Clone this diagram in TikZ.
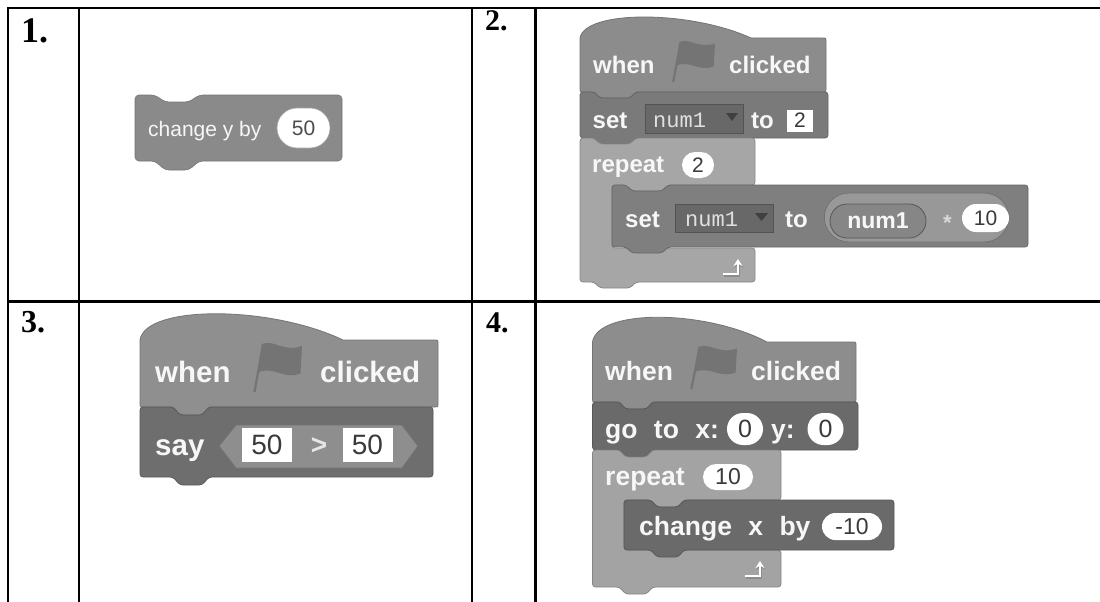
\documentclass[tikz,border=0pt]{standalone}
\usepackage{fontspec}
\setmainfont{Liberation Serif}
\newfontfamily\scrfont{Liberation Sans}
\newfontfamily\scrplain{Liberation Sans}
\newfontfamily\scrmono{Liberation Mono}
\usetikzlibrary{arrows.meta,shapes.misc}

\definecolor{plainA}{HTML}{8A8A8A}
\definecolor{hatB}{HTML}{8C8C8C}
\definecolor{setB}{HTML}{7A7A7A}
\definecolor{ctrlB}{HTML}{A6A6A6}
\definecolor{setBin}{HTML}{7F7F7F}
\definecolor{dropB}{HTML}{686868}
\definecolor{opB}{HTML}{989898}
\definecolor{varB}{HTML}{868686}
\definecolor{hatC}{HTML}{8F8F8F}
\definecolor{sayC}{HTML}{6E6E6E}
\definecolor{hexC}{HTML}{8E8E8E}
\definecolor{hatD}{HTML}{8D8D8D}
\definecolor{motD}{HTML}{6A6A6A}
\definecolor{ctrlD}{HTML}{A3A3A3}
\definecolor{flagG}{HTML}{747474}
\definecolor{txtwhite}{HTML}{F7F7F7}
\definecolor{inkgray}{HTML}{3A3A3A}

% notch geometry: offsets from a block's left edge and notch depth
\def\nA{14}\def\nB{20}\def\nC{50}\def\nD{56}\def\nH{6}

% stack block: x1, y1, x2, y2, fill
\newcommand{\scrStack}[5]{%
  \path[fill=#5, draw=#5!82!black, line width=0.8pt, rounded corners=3pt]
    (#1,#2) -- (#1+\nA,#2) -- (#1+\nB,#2+\nH) -- (#1+\nC,#2+\nH) -- (#1+\nD,#2) -- (#3,#2)
    -- (#3,#4) -- (#1+\nD,#4) -- (#1+\nC,#4+\nH) -- (#1+\nB,#4+\nH) -- (#1+\nA,#4) -- (#1,#4) -- cycle;}

% hat block: x1, control y of the hump, x2, y2, y of flat top, x where hump ends, fill
\newcommand{\scrHat}[7]{%
  \path[fill=#7, draw=#7!82!black, line width=0.8pt]
    (#1,#4-3) -- (#1,#5) .. controls (#1+5,#2) and ({#6-0.36*(#6-#1)},#2) .. (#6,#5)
    -- (#3-4,#5) .. controls (#3,#5) .. (#3,#5+4) -- (#3,#4-3) .. controls (#3,#4) .. (#3-3,#4)
    -- (#1+\nD,#4) -- (#1+\nC,#4+\nH) -- (#1+\nB,#4+\nH) -- (#1+\nA,#4) -- (#1+3,#4)
    .. controls (#1,#4) .. (#1,#4-3) -- cycle;}

% C block: x1, y1, right of arms, bottom of top arm, inner x, top of bottom arm, y2, fill
\newcommand{\scrC}[8]{%
  \path[fill=#8, draw=#8!82!black, line width=0.8pt, rounded corners=3pt]
    (#1,#2) -- (#1+\nA,#2) -- (#1+\nB,#2+\nH) -- (#1+\nC,#2+\nH) -- (#1+\nD,#2) -- (#3,#2)
    -- (#3,#4) -- (#5+\nD,#4) -- (#5+\nC,#4+\nH) -- (#5+\nB,#4+\nH) -- (#5+\nA,#4) -- (#5,#4)
    -- (#5,#6) -- (#3,#6) -- (#3,#7) -- (#1+\nD,#7) -- (#1+\nC,#7+\nH) -- (#1+\nB,#7+\nH)
    -- (#1+\nA,#7) -- (#1,#7) -- cycle;}

% green-flag glyph: left, top, width, height, colour
\newcommand{\scrFlag}[5]{%
  \begin{scope}[shift={(#1,#2)}]
  \begin{scope}[x=#3pt,y=-#4pt]
    \draw[#5, line width=2.2pt] (0.05,1) -- (0.22,0.02);
    \fill[#5] (0.2,0.02) .. controls (0.45,-0.08) and (0.62,0.2) .. (1,0.06)
      -- (0.97,0.62) .. controls (0.62,0.76) and (0.45,0.46) .. (0.12,0.6) -- cycle;
  \end{scope}
  \end{scope}}

% loop-return arrow: left, top
\newcommand{\scrReturn}[2]{%
  \draw[black!45, line width=2.6pt, -{Stealth[length=7pt,width=9pt]}]
    (#1+1,#2+17.5) -- (#1+16,#2+17.5) -- (#1+16,#2+2.5);
  \draw[white, line width=2.6pt, -{Stealth[length=7pt,width=9pt]}]
    (#1,#2+16) -- (#1+15,#2+16) -- (#1+15,#2+1);}

\newcommand{\fontpanelb}{\scrfont\bfseries\fontsize{24}{24}\selectfont\spaceskip=0.6em\relax}
\newcommand{\fontpanelc}{\scrfont\bfseries\fontsize{29.5}{30}\selectfont\spaceskip=0.6em\relax}
\newcommand{\fontpaneld}{\scrfont\bfseries\fontsize{26.5}{27}\selectfont\spaceskip=0.62em\relax}

\tikzset{
  gridline/.style={line width=2.5pt, black},
  numlabel/.style={anchor=base west, inner sep=0pt},
  blocktext/.style={anchor=base west, inner sep=0pt, text=txtwhite},
  capsule/.style={rounded rectangle, fill=white, inner sep=0pt, text=inkgray},
  squarein/.style={rectangle, fill=white, inner sep=0pt, text=inkgray},
  dropbox/.style={rectangle, fill=dropB, draw=dropB!80!black, line width=0.6pt, inner sep=0pt},
}

\begin{document}
\begin{tikzpicture}[x=1pt,y=-1pt]
\useasboundingbox (0,0) rectangle (1100,602);
\fill[white] (0,0) rectangle (1100,602);

% table rules
\draw[gridline] (8,602) -- (8,8) -- (1100,8);
\draw[gridline] (8,301.5) -- (1100,301.5);
\draw[gridline] (79,8) -- (79,602);
\draw[gridline] (472,8) -- (472,602);
\draw[gridline] (535.5,8) -- (535.5,602);

% question numbers
\node[numlabel, font=\bfseries\fontsize{36}{36}\selectfont] (n1) at (21,43) {1.};
\node[numlabel, font=\bfseries\fontsize{30}{30}\selectfont] (n2) at (485,31) {2.};
\node[numlabel, font=\bfseries\fontsize{32}{32}\selectfont] (n3) at (21,332) {3.};
\node[numlabel, font=\bfseries\fontsize{30}{30}\selectfont] (n4) at (486,332) {4.};

% ---- 1: change y by 50
\path[fill=plainA, draw=plainA!85!black, line width=0.6pt, rounded corners=4pt]
  (135,95) -- (155,95) -- (165,102) -- (189,102) -- (199,95) -- (342,95) -- (342,161)
  -- (199,161) -- (189,170) -- (165,170) -- (155,161) -- (135,161) -- cycle;
\node[blocktext, font=\scrplain\fontsize{21}{21}\selectfont] (a1) at (148,136) {change y by};
\node[capsule, minimum width=53pt, minimum height=40pt, draw=black!35, line width=0.6pt,
      font=\scrplain\fontsize{21}{21}\selectfont, text=black!70] (a2) at (303.5,128) {50};

% ---- 2: when flag clicked / set / repeat
\begin{scope}
\scrHat{580}{10}{826}{92}{38}{751}{hatB}
\scrFlag{671}{41}{44}{41}{flagG}
\node[blocktext, font=\fontpanelb] (b1) at (593,74) {when};
\node[blocktext, font=\fontpanelb] (b2) at (729,74) {clicked};
\scrStack{580}{92}{828}{138}{setB}
\node[blocktext, font=\fontpanelb] (b3) at (592.5,128) {set};
\node[dropbox, minimum width=98pt, minimum height=29pt] (b4) at (694,118.5) {};
\node[blocktext, font=\scrmono\fontsize{22}{22}\selectfont, text=black!12] (b5) at (653,127) {num1};
\fill[black!75] (726,113) -- (738,113) -- (732,121) -- cycle;
\node[blocktext, font=\fontpanelb] (b6) at (751,128) {to};
\node[squarein, minimum width=26pt, minimum height=22pt, font=\scrplain\fontsize{21}{21}\selectfont] (b7) at (800,120.5) {2};

\scrC{580}{138}{755}{185}{612}{248}{282}{ctrlB}
\node[blocktext, font=\fontpanelb] (b8) at (592,172) {repeat};
\node[capsule, minimum width=32pt, minimum height=26pt, font=\scrplain\fontsize{21}{21}\selectfont] (b9) at (698,165) {2};
\scrStack{612}{185}{1028}{247}{setBin}
\node[blocktext, font=\fontpanelb] (b10) at (625,227) {set};
\node[dropbox, minimum width=98pt, minimum height=28pt] (b11) at (724,218) {};
\node[blocktext, font=\scrmono\fontsize{22}{22}\selectfont, text=black!12] (b12) at (685,226) {num1};
\fill[black!75] (755,213) -- (768,213) -- (761.5,221) -- cycle;
\node[blocktext, font=\fontpanelb] (b13) at (785,227) {to};
\node[rounded rectangle, fill=opB, draw=opB!75!black, line width=0.8pt, minimum width=191pt, minimum height=49pt] (b14) at (916.5,217.5) {};
\node[rounded rectangle, fill=varB, draw=varB!65!black, line width=0.8pt, minimum width=96pt, minimum height=34pt,
      inner sep=0pt, font=\scrplain\bfseries\fontsize{23}{23}\selectfont, text=txtwhite] (b15) at (878,221) {num1};
\node[blocktext, font=\scrplain\bfseries\fontsize{22}{22}\selectfont, text=black!15] (b16) at (943,230) {*};
\node[capsule, minimum width=47pt, minimum height=28pt, font=\scrplain\fontsize{21}{21}\selectfont] (b17) at (985.5,218) {10};
\scrReturn{723}{258}
\end{scope}

% ---- 3: when flag clicked / say 50 > 50
\begin{scope}
\def\nA{33}\def\nB{40}\def\nC{62}\def\nD{69}\def\nH{8}
\scrHat{140}{305}{438}{407}{340}{343}{hatC}
\scrFlag{252}{343}{50}{49}{flagG}
\node[blocktext, font=\fontpanelc] (c1) at (155,382) {when};
\node[blocktext, font=\fontpanelc] (c2) at (320,382) {clicked};
\scrStack{140}{407}{433}{477}{sayC}
\node[blocktext, font=\fontpanelc] (c3) at (155,455) {say};
\path[fill=hexC, draw=hexC!80!black, line width=0.8pt]
  (219,446) -- (236,425) -- (402,425) -- (418,446) -- (402,468) -- (236,468) -- cycle;
\node[squarein, minimum width=50pt, minimum height=34pt, font=\scrplain\fontsize{28}{28}\selectfont] (c4) at (267,445) {50};
\node[font=\scrplain\bfseries\fontsize{28}{28}\selectfont, text=black!10, inner sep=0pt] (c5) at (319,446) {>};
\node[squarein, minimum width=50pt, minimum height=34pt, font=\scrplain\fontsize{28}{28}\selectfont] (c6) at (367.5,445) {50};
\end{scope}

% ---- 4: when flag clicked / go to / repeat change x
\begin{scope}
\def\nA{27}\def\nB{33}\def\nC{54}\def\nD{60}\def\nH{7}
\scrHat{592.5}{309}{856}{402}{342}{767}{hatD}
\scrFlag{689}{346}{48}{43}{flagG}
\node[blocktext, font=\fontpaneld] (d1) at (605,380) {when};
\node[blocktext, font=\fontpaneld] (d2) at (751,380) {clicked};
\scrStack{592.5}{402}{858}{450}{motD}
\node[blocktext, font=\fontpaneld] (d3) at (605,438) {go to x:};
\node[capsule, minimum width=36pt, minimum height=32pt, font=\scrplain\fontsize{25}{25}\selectfont] (d4) at (745,429) {0};
\node[blocktext, font=\fontpaneld] (d5) at (771,438) {y:};
\node[capsule, minimum width=36pt, minimum height=32pt, font=\scrplain\fontsize{25}{25}\selectfont] (d6) at (825.5,429) {0};
\scrC{592.5}{450}{781}{500}{624}{550}{587}{ctrlD}
\node[blocktext, font=\fontpaneld] (d7) at (605,485) {repeat};
\node[capsule, minimum width=50pt, minimum height=26pt, font=\scrplain\fontsize{23}{23}\selectfont] (d8) at (728,477) {10};
\scrStack{624}{500}{894}{550}{motD}
\node[blocktext, font=\fontpaneld] (d9) at (639,535) {change x by};
\node[capsule, minimum width=60pt, minimum height=27pt, font=\scrplain\fontsize{23}{23}\selectfont] (d10) at (852,526.5) {-10};
\scrReturn{745}{560}
\end{scope}

\end{tikzpicture}
\end{document}
